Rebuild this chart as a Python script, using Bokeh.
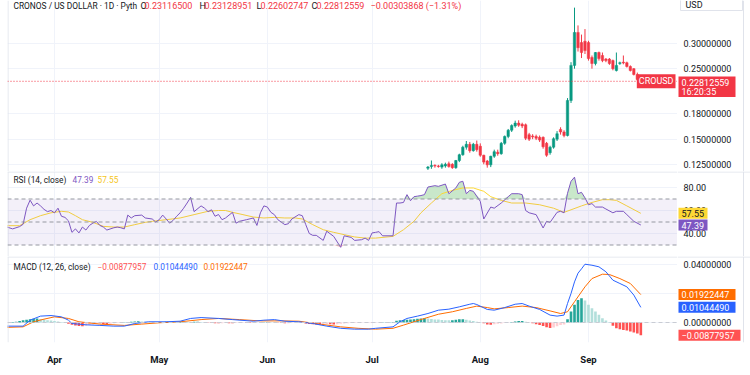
import numpy as np
import pandas as pd
from bokeh.plotting import figure
from bokeh.layouts import column, row
from bokeh.core.properties import value
from bokeh.models import (ColumnDataSource, Range1d, FixedTicker, DatetimeTickFormatter,
                          Span, BoxAnnotation, Label)
from bokeh.embed import file_html
from bokeh.resources import INLINE

# ---------------- data ----------------
title_text = "CRONOS / US DOLLAR · 1D · Pyth"
head_keys = ["O", "H", "L", "C"]
head_vals = ["0.23116500", "0.23128951", "0.22602747", "0.22812559"]
head_change = "\u22120.00303868 (\u22121.31%)"
last_price = 0.22812559
countdown = "16:20:35"
symbol = "CROUSD"
currency = "USD"

candle_start = "2025-07-17"
opens = [0.1215, 0.1230, 0.1240, 0.1235, 0.1225, 0.1235, 0.1255, 0.1250, 0.1220, 0.1285, 0.1340, 0.1415, 0.1445, 0.1380, 0.1445,
         0.1425, 0.1335, 0.1280, 0.1245, 0.1325, 0.1365, 0.1350, 0.1455, 0.1530, 0.1600, 0.1650, 0.1685, 0.1670, 0.1665, 0.1550, 0.1535,
         0.1530, 0.1520, 0.1520, 0.1455, 0.1360, 0.1415, 0.1500, 0.1610, 0.1580, 0.1540, 0.1985, 0.2560, 0.3250, 0.3020, 0.3050,
         0.3020, 0.2710, 0.2595, 0.2810, 0.2750, 0.2680, 0.2680, 0.2650, 0.2466, 0.2595, 0.2620, 0.2610, 0.2540, 0.2500, 0.2397, 0.23116500]
highs = [0.1235, 0.1285, 0.1250, 0.1245, 0.1260, 0.1265, 0.1275, 0.1260, 0.1290, 0.1350, 0.1430, 0.1480, 0.1470, 0.1460, 0.1485,
         0.1455, 0.1340, 0.1290, 0.1330, 0.1390, 0.1390, 0.1470, 0.1540, 0.1615, 0.1670, 0.1715, 0.1720, 0.1690, 0.1680, 0.1570, 0.1555,
         0.1550, 0.1540, 0.1530, 0.1470, 0.1430, 0.1520, 0.1590, 0.1635, 0.1600, 0.2020, 0.2620, 0.3890, 0.3420, 0.3200, 0.3330,
         0.3060, 0.2750, 0.2820, 0.2830, 0.2810, 0.2700, 0.2700, 0.2670, 0.2810, 0.2630, 0.2750, 0.2630, 0.2560, 0.2510, 0.2430, 0.23128951]
lows = [0.1200, 0.1210, 0.1220, 0.1220, 0.1210, 0.1220, 0.1220, 0.1210, 0.1210, 0.1270, 0.1330, 0.1390, 0.1360, 0.1370, 0.1370,
        0.1320, 0.1250, 0.1220, 0.1225, 0.1310, 0.1330, 0.1340, 0.1440, 0.1510, 0.1580, 0.1630, 0.1640, 0.1625, 0.1490, 0.1480, 0.1500,
        0.1490, 0.1470, 0.1400, 0.1320, 0.1340, 0.1400, 0.1480, 0.1550, 0.1520, 0.1530, 0.1950, 0.2500, 0.2830, 0.2700, 0.2780,
        0.2650, 0.2500, 0.2560, 0.2650, 0.2620, 0.2620, 0.2570, 0.2470, 0.2450, 0.2570, 0.2580, 0.2520, 0.2450, 0.2380, 0.2290, 0.22602747]
closes = [0.1225, 0.1240, 0.1235, 0.1230, 0.1245, 0.1250, 0.1230, 0.1220, 0.1285, 0.1340, 0.1415, 0.1445, 0.1380, 0.1445, 0.1390,
          0.1335, 0.1270, 0.1245, 0.1325, 0.1370, 0.1350, 0.1455, 0.1530, 0.1600, 0.1655, 0.1685, 0.1660, 0.1650, 0.1510, 0.1500, 0.1525,
          0.1510, 0.1490, 0.1420, 0.1335, 0.1415, 0.1505, 0.1560, 0.1580, 0.1540, 0.1985, 0.2560, 0.3250, 0.2910, 0.2810, 0.2850,
          0.2690, 0.2595, 0.2810, 0.2690, 0.2650, 0.2650, 0.2595, 0.2500, 0.2560, 0.2610, 0.2605, 0.2540, 0.2466, 0.2397, 0.2312, 0.22812559]

# indicator series: day offsets from ind_start
ind_start = "2025-03-18"
rsi_idx = [0, 2, 4, 5, 6, 7, 8, 9, 10, 11, 12, 13, 14, 15, 16, 17, 18, 19, 20, 21, 22, 23, 24, 25, 26, 27, 28, 29, 31, 32,
           33, 34, 35, 36, 37, 39, 40, 42, 43, 44, 45, 46, 47, 48, 49, 50, 51, 52, 53, 54, 56, 57, 58, 59, 60, 61, 62, 63,
           65, 66, 67, 69, 71, 72, 73, 74, 75, 76, 77, 78, 80, 81, 82, 84, 85, 86, 87, 88, 89, 91, 92, 94, 96, 97, 99, 100,
           102, 103, 104, 105, 106, 107, 108, 111, 112, 113, 114, 115, 116, 117, 118, 119, 120, 121, 123, 124, 126, 127,
           129, 130, 131, 132, 133, 134, 136, 137, 139, 140, 142, 144, 145, 147, 148, 149, 150, 152, 154, 155, 156, 158,
           159, 160, 161, 162, 163, 164, 165, 166, 167, 168, 169, 171, 172, 174, 175, 177, 178, 180, 182]
rsi_vals = [46, 44, 46, 48, 62, 69, 64, 66.5, 64, 61, 59, 60, 58, 62, 55, 54, 51, 41, 44, 40.5, 45.6, 43, 47, 49, 50.5, 47, 45.6, 43, 45, 45.6,
            45, 44, 56, 53.5, 55.5, 56, 53.5, 52.6, 50, 52, 56, 52.6, 49, 51.4, 55, 58, 62, 66.5, 71.4, 59, 64, 62, 59, 60.6, 55, 56.5, 52, 53.5,
            58.4, 49, 50.6, 52, 53.5, 47, 58, 64, 63, 58.4, 56.4, 52, 47.7, 48.5, 52.6, 56.4, 55.5, 47.7, 40, 38.4, 38.4, 34, 42, 37.5, 28, 38, 36.6, 34,
            34.6, 36, 34, 40.5, 41, 41.6, 38, 38, 66.5, 66.5, 67, 73.8, 68.5, 72, 72.5, 73, 73.8, 80.4, 81.6, 81, 83, 74.6,
            79.6, 84.5, 85.4, 74.6, 77.5, 76.7, 68, 52.6, 63, 62, 66.5, 72, 74.6, 74.6, 73.8, 60, 58, 56.4, 44.8, 50.6, 49.7, 58.4,
            59.3, 58, 75, 85.4, 89, 74.6, 75.8, 71, 65, 66, 63, 63, 61.3, 58, 59.3, 59.3, 56.4, 50.6, 47.39]
rsi_ma_idx = [0, 4, 7, 10, 13, 16, 18, 20, 22, 25, 28, 31, 34, 37, 40, 42, 46, 50, 54, 58, 61, 63, 65, 68, 71, 74, 77, 80, 83, 85,
              88, 91, 94, 97, 100, 103, 106, 111, 114, 117, 119, 122, 125, 128, 131, 134, 137, 139, 142, 145, 149, 153, 157, 160,
              162, 165, 168, 171, 173, 175, 178, 182]
rsi_ma_vals = [46.8, 46.8, 52, 55.5, 58, 59.3, 58.7, 55.5, 52, 49.7, 46.2, 45.6, 45.6, 47.7, 49.7, 50.6, 52, 53.5, 56.4, 59.3,
               60, 60, 58.4, 56.4, 54.3, 53.5, 54, 53.5, 53.5, 52.6, 47.7, 43.3, 41, 39, 37, 36, 36, 37.5, 43.3, 50.6,
               58, 66.5, 74.6, 77.5, 79.6, 79.6, 76.7, 72, 68.8, 66.5, 66.5, 65, 62, 58.4, 60.6, 64, 67, 69.4, 69.4, 68.8, 64, 57.55]
rsi_last = "47.39"
rsi_ma_last = "57.55"

macd_idx = [0, 5, 7, 10, 13, 16, 18, 19, 23, 27, 31, 34, 37, 41, 46, 50, 53, 56, 61, 65, 71, 74, 77, 80, 84, 88, 92, 96, 100, 104,
            106, 111, 113, 115, 118, 121, 124, 127, 130, 133, 134, 135, 138, 140, 143, 146, 148, 150, 153, 156, 158, 160, 161, 162,
            163, 164, 165, 166, 168, 170, 172, 174, 176, 178, 180, 182]
macd_vals = [-0.0025, -0.0025, 0.0016, 0.0044, 0.0048, 0.0039, 0.0016, -0.0007, -0.0016, -0.002, -0.0025, -0.0025, -0.0007, 0.0005,
             0.0005, 0.0009, 0.0028, 0.0034, 0.0028, 0.002, 0.0009, 0.0016, 0.002, 0.0009, 0.0005, -0.0007, -0.0025, -0.004, -0.0046,
             -0.0046, -0.004, -0.003, 0.0005, 0.0028, 0.0044, 0.0062, 0.0085, 0.0092, 0.0108, 0.0126, 0.0131, 0.0124, 0.009, 0.0085,
             0.0103, 0.0126, 0.0131, 0.0113, 0.009, 0.0051, 0.0044, 0.0051, 0.0131, 0.020, 0.028, 0.034, 0.037, 0.0402, 0.0395, 0.0384,
             0.035, 0.0292, 0.0269, 0.0246, 0.0189, 0.0104449]
signal_idx = [0, 5, 8, 11, 14, 18, 21, 27, 34, 39, 44, 50, 56, 61, 67, 73, 79, 84, 90, 96, 101, 106, 111, 114, 117, 120, 124, 128,
              132, 135, 138, 140, 144, 148, 152, 156, 159, 161, 163, 166, 168, 171, 173, 176, 179, 182]
signal_vals = [-0.0034, -0.003, 0.0005, 0.0023, 0.0039, 0.0028, 0.0005, -0.0011, -0.002, -0.0011, -0.0002, 0.0005, 0.002, 0.0028,
               0.002, 0.0011, 0.0011, 0.0009, -0.0011, -0.003, -0.004, -0.0046, -0.004, -0.0018, 0.0005, 0.0028, 0.0057, 0.0074,
               0.0097, 0.0113, 0.0103, 0.0094, 0.0103, 0.0113, 0.0103, 0.008, 0.0062, 0.0074, 0.0143, 0.0246, 0.0303, 0.0333,
               0.0331, 0.0303, 0.0269, 0.01922447]
# daily histogram from ind_start
hist_vals = [
    -0.0002, 0.0001, 0.0003, 0.0006, 0.0010, 0.0015, 0.0019, 0.0023, 0.0026, 0.0028, 0.0024, 0.0020, 0.0016, 0.0013,
    0.0010, 0.0007, 0.0004, 0.0002, -0.0008, -0.0015, -0.0020, -0.0024, -0.0025, -0.0022, -0.0018, -0.0014, -0.0011, -0.0009, -0.0010,
    -0.0012, -0.0009, -0.0006, -0.0004, -0.0002, 0.0001, 0.0003, 0.0005, 0.0007, 0.0008, 0.0007, 0.0005, 0.0004, 0.0003, 0.0002,
    0.0003, 0.0004, 0.0005, 0.0004, 0.0003, 0.0004, 0.0005, 0.0006, 0.0005, 0.0004, 0.0005, 0.0006, 0.0004, 0.0002, -0.0001, -0.0003,
    -0.0005, -0.0006, -0.0005, -0.0004, -0.0005, -0.0006, -0.0004, -0.0003, -0.0002, -0.0003, -0.0004, -0.0003, -0.0002, 0.0001, 0.0002,
    0.0003, 0.0002, 0.0001, -0.0002, -0.0004, -0.0006, -0.0005, -0.0004, -0.0003, -0.0002, -0.0004, -0.0007, -0.0010, -0.0012, -0.0014,
    -0.0015, -0.0013, -0.0011, -0.0012, -0.0014, -0.0012, -0.0009, -0.0007, -0.0005, -0.0004, -0.0003, -0.0003, -0.0002, -0.0002, -0.0001,
    -0.0002, -0.0002, -0.0001, 0.0001, 0.0002, 0.0002, 0.0003, 0.0012, 0.0016, 0.0018, 0.0019, 0.0021, 0.0023, 0.0026, 0.0028, 0.0030,
    0.0028, 0.0024, 0.0021, 0.0020, 0.0018, 0.0016, 0.0015, 0.0015, 0.0019, 0.0022, 0.0023, 0.0019, 0.0014, 0.0010, 0.0006,
    0.0002, -0.0006, -0.0013, -0.0016, -0.0012, -0.0009, -0.0007, -0.0004, -0.0002, 0.0003, 0.0007, 0.0010, 0.0011, 0.0005, 0.0000,
    -0.0006, -0.0012, -0.0018, -0.0024, -0.0032, -0.0038, -0.0035, -0.0026, -0.0018, -0.0014, 0.0023, 0.0076, 0.0122, 0.0156, 0.0168, 0.0152,
    0.0122, 0.0099, 0.0076, 0.0053, 0.0030, 0.0014, 0.0003, -0.0023, -0.0039, -0.0046, -0.0051, -0.0055, -0.0062, -0.0069, -0.0076, -0.00877957]
macd_last = "0.01044490"
signal_last = "0.01922447"
hist_last = "\u22120.00877957"

price_ticks = [0.125, 0.15, 0.18, 0.25, 0.30]
rsi_ticks = [40, 60, 80]
rsi_levels = [30, 50, 70]
macd_ticks = [0.0, 0.02, 0.04]
month_dates = ["2025-04-01", "2025-05-01", "2025-06-01", "2025-07-01", "2025-08-01", "2025-09-01"]

# ---------------- geometry helpers (layout only) ----------------
FL, FR = 7, 677
AXW = 73
APR1 = pd.Timestamp("2025-04-01")
PXD = 3.49
DAY = 86400000.0


def px_ms(px):
    return (APR1 + pd.Timedelta(days=(px - 54) / PXD)).value / 1e6


def py_price(py):
    return 0.30 * np.exp((43 - py) / 138.0)


def py_rsi(py):
    return 80 - (py - 187) / 1.15


def py_macd(py):
    return (322 - py) / 1450.0


UP, DN = "#089981", "#F23645"
TXT = "#131722"
GRID = "#F0F3FA"
SEP = "#E0E3EB"
FONT = "Roboto"

xr = Range1d(px_ms(FL), px_ms(FR))
month_ms = [pd.Timestamp(d).value / 1e6 for d in month_dates]


def main_fig(height, yr, ytype="linear", bottom=0, xaxis=False):
    p = figure(width=FR, height=height, x_axis_type="datetime", y_axis_type=ytype, x_range=xr, y_range=yr,
               output_backend="svg", toolbar_location=None, y_axis_location=None,
               x_axis_location="below" if xaxis else None,
               min_border_left=FL, min_border_right=0, min_border_top=0, min_border_bottom=bottom)
    p.background_fill_color = "white"
    p.border_fill_color = "white"
    p.outline_line_color = None
    p.xgrid.ticker = FixedTicker(ticks=month_ms)
    p.xgrid.grid_line_color = GRID
    p.ygrid.grid_line_color = GRID
    p.add_layout(Span(location=px_ms(FL + 0.5), dimension="height", line_color=SEP, line_width=1))
    return p


def axis_fig(height, yr, ytype="linear", bottom=0):
    a = figure(width=AXW, height=height, y_axis_type=ytype, x_range=Range1d(0, AXW), y_range=yr,
               output_backend="svg", toolbar_location=None, x_axis_location=None, y_axis_location=None,
               min_border_left=0, min_border_right=0, min_border_top=0, min_border_bottom=bottom)
    a.background_fill_color = "white"
    a.border_fill_color = "white"
    a.outline_line_color = None
    a.grid.visible = False
    a.add_layout(Span(location=66, dimension="height", line_color=SEP, line_width=1))
    return a


def tick_text(a, ticks, labels):
    a.text(x=[6] * len(ticks), y=ticks, text=labels, text_font=value(FONT), text_font_size=value("9px"),
           text_color=TXT, text_baseline="middle", text_align="left")


def box(a, x0, x1, ytop, ybot, fill, line=None):
    a.quad(left=x0, right=x1, top=ytop, bottom=ybot, fill_color=fill, line_color=line, line_width=1)


def btext(a, x, y, text, color):
    a.text(x=[x], y=[y], text=[text], text_font=value(FONT), text_font_size=value("9px"),
           text_color=color, text_baseline="middle", text_align="left")


def lab(p, x_px, y, text, color, size="9px", bg=None, align="left", pad=0):
    p.add_layout(Label(x=px_ms(x_px), y=y, text=text, text_color=color, text_font=FONT, text_font_size=size,
                       text_align=align, text_baseline="middle", background_fill_color=bg, padding=pad))


# ---------------- price pane ----------------
yr1 = Range1d(py_price(171), py_price(0))
p1 = main_fig(171, yr1, "log")
p1.ygrid.ticker = FixedTicker(ticks=price_ticks)
a1 = axis_fig(171, yr1, "log")

t0c = pd.Timestamp(candle_start)
cdates = [t0c + pd.Timedelta(days=k) for k in range(len(opens))]
ccol = [UP if c >= o else DN for o, c in zip(opens, closes)]
csrc = ColumnDataSource(dict(t=cdates, h=highs, l=lows,
                             top=[max(o, c) for o, c in zip(opens, closes)],
                             bot=[min(o, c) for o, c in zip(opens, closes)], col=ccol))
p1.segment(x0="t", y0="h", x1="t", y1="l", line_color="col", line_width=1, source=csrc)
p1.vbar(x="t", width=0.7 * DAY, top="top", bottom="bot", fill_color="col", line_color="col", line_width=0.5, source=csrc)
p1.add_layout(Span(location=last_price, dimension="width", line_color=DN, line_dash="1 2", line_width=1))

hy = py_price(5)
lab(p1, 13, hy, title_text, TXT, size="8.4px")
for k, v, xk, xv in zip(head_keys, head_vals, [140, 199, 256, 311], [144, 204, 260, 316]):
    lab(p1, xk, hy, k, TXT, size="9px")
    lab(p1, xv, hy, v, DN, size="9px")
lab(p1, 370, hy, head_change, DN, size="9px")
lab(p1, 675, last_price, symbol, "white", bg=DN, align="right", pad=2)

tick_text(a1, price_ticks, [f"{t:.8f}" for t in price_ticks])
box(a1, 3, 65, py_price(-6), py_price(10), "white", SEP)
btext(a1, 8, py_price(4), currency, TXT)
box(a1, 1, 58, py_price(76), py_price(96.5), DN)
btext(a1, 4, py_price(81.5), f"{last_price:.8f}", "white")
btext(a1, 4, py_price(91), countdown, "white")

# ---------------- RSI pane ----------------
yr2 = Range1d(py_rsi(256), py_rsi(171))
p2 = main_fig(85, yr2)
p2.ygrid.ticker = FixedTicker(ticks=rsi_ticks)
a2 = axis_fig(85, yr2)
p2.add_layout(BoxAnnotation(bottom=rsi_levels[0], top=rsi_levels[2], fill_color="#7E57C2", fill_alpha=0.09, line_color=None))
for lv in rsi_levels:
    p2.add_layout(Span(location=lv, dimension="width", line_color="#9598A1", line_dash="4 3", line_width=1))
for f in (p2, a2):
    f.add_layout(Span(location=py_rsi(171.5), dimension="width", line_color=SEP, line_width=1))

t0 = pd.Timestamp(ind_start)
rsi_t = [t0 + pd.Timedelta(days=d) for d in rsi_idx]
p2.varea(x=rsi_t, y1=[70] * len(rsi_vals), y2=[max(v, 70) for v in rsi_vals], fill_color="#4CAF50", fill_alpha=0.3)
p2.varea(x=rsi_t, y1=[min(v, 30) for v in rsi_vals], y2=[30] * len(rsi_vals), fill_color=DN, fill_alpha=0.3)
p2.line([t0 + pd.Timedelta(days=d) for d in rsi_ma_idx], rsi_ma_vals, line_color="#FDD835", line_width=1)
p2.line(rsi_t, rsi_vals, line_color="#7E57C2", line_width=1)

ry = py_rsi(179)
lab(p2, 13, ry, "RSI (14, close)", TXT, size="8.3px")
lab(p2, 72, ry, rsi_last, "#7E57C2", size="8.3px")
lab(p2, 97, ry, rsi_ma_last, "#F5C518", size="8.3px")

tick_text(a2, rsi_ticks, [f"{t:.2f}" for t in rsi_ticks])
for val, fill, col in ((float(rsi_ma_last), "#FDD835", TXT), (float(rsi_last), "#7E57C2", "white")):
    box(a2, 1, 30, val + 5.5 / 1.15, val - 5.5 / 1.15, fill)
    btext(a2, 4, val, f"{val:.2f}", col)

# ---------------- MACD pane ----------------
yr3 = Range1d(py_macd(342), py_macd(256))
p3 = main_fig(119, yr3, bottom=33, xaxis=True)
p3.ygrid.ticker = FixedTicker(ticks=macd_ticks)
a3 = axis_fig(119, yr3, bottom=33)
p3.xaxis.ticker = FixedTicker(ticks=month_ms)
p3.xaxis.formatter = DatetimeTickFormatter(months="%b", days="%b")
p3.xaxis.axis_line_color = None
p3.xaxis.major_tick_line_color = None
p3.xaxis.minor_tick_line_color = None
p3.xaxis.major_label_text_font = FONT
p3.xaxis.major_label_text_font_size = "9.5px"
p3.xaxis.major_label_text_font_style = "bold"
p3.xaxis.major_label_text_color = TXT
p3.xaxis.major_label_standoff = 5
for f in (p3, a3):
    f.add_layout(Span(location=py_macd(256.5), dimension="width", line_color=SEP, line_width=1))
p3.add_layout(Span(location=0, dimension="width", line_color="#C9CCD4", line_dash="4 3", line_width=1))

hist_t = [t0 + pd.Timedelta(days=k) for k in range(len(hist_vals))]
hcol = []
prev = 0.0
for h in hist_vals:
    if h >= 0:
        hcol.append("#26A69A" if h >= prev else "#B2DFDB")
    else:
        hcol.append("#FF5252" if h < prev else "#FFCDD2")
    prev = h
hsrc = ColumnDataSource(dict(t=hist_t, h=hist_vals, col=hcol))
p3.vbar(x="t", width=0.75 * DAY, top="h", bottom=0, fill_color="col", line_color=None, source=hsrc)
p3.line([t0 + pd.Timedelta(days=d) for d in signal_idx], signal_vals, line_color="#FF6D00", line_width=1)
p3.line([t0 + pd.Timedelta(days=d) for d in macd_idx], macd_vals, line_color="#2962FF", line_width=1)

my = py_macd(266)
lab(p3, 13, my, "MACD (12, 26, close)", TXT, size="8.3px")
lab(p3, 97, my, hist_last, "#FF5252", size="8.3px")
lab(p3, 153, my, macd_last, "#2962FF", size="8.3px")
lab(p3, 203, my, signal_last, "#FF6D00", size="8.3px")

tick_text(a3, macd_ticks, [f"{t:.8f}" for t in macd_ticks])
hpx = 5.5 / 1450.0
for txt, val, fill, x1 in ((signal_last, float(signal_last), "#FF6D00", 58),
                           (macd_last, float(macd_last), "#2962FF", 58),
                           (hist_last, hist_vals[-1], "#FF5252", 63)):
    box(a3, 1, x1, val + hpx, val - hpx, fill)
    btext(a3, 4, val, txt, "white")

layout = column(row(p1, a1, spacing=0), row(p2, a2, spacing=0), row(p3, a3, spacing=0), spacing=0)
open("out.html", "w").write(file_html(layout, INLINE))
